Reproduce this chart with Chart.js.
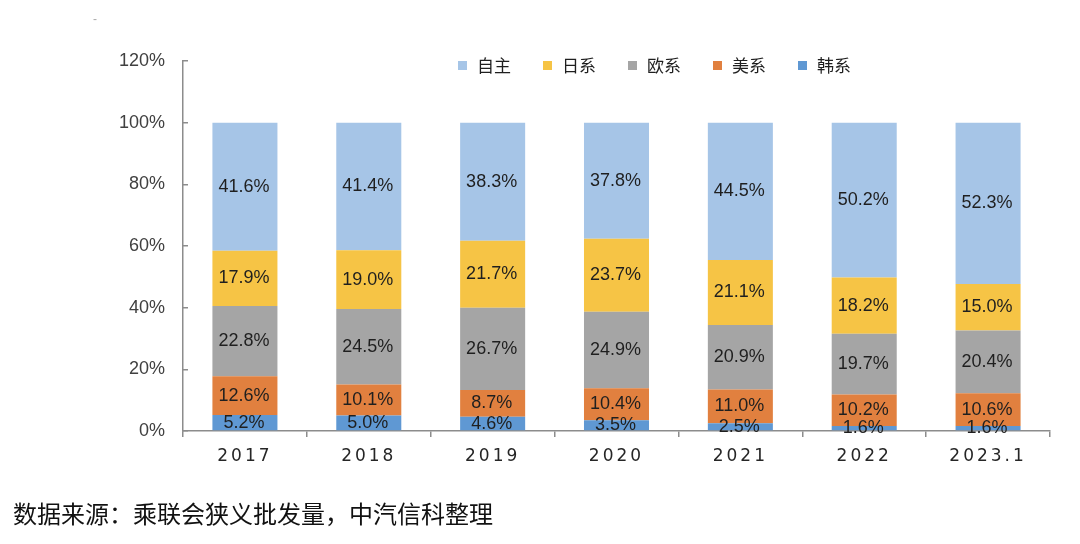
<!DOCTYPE html>
<html>
<head>
<meta charset="utf-8">
<script src="https://cdn.jsdelivr.net/npm/chart.js@4.4.0/dist/chart.umd.min.js"></script>
<style>
  html, body { margin: 0; padding: 0; background: #fff; }
  #wrap { position: relative; width: 1080px; height: 544px; }
  #chart { position: absolute; left: 0; top: 0; }
  #source {
    position: absolute; left: 13px; top: 501px;
    font: 24px/24px "Noto Sans CJK SC", sans-serif; color: #111; white-space: nowrap;
  }
  #dash { position: absolute; left: 93px; top: 12px; font: 12px "Liberation Sans", sans-serif; color: #aaa; }
</style>
</head>
<body>
<div id="wrap">
  <canvas id="chart" width="1080" height="544"></canvas>
  <div id="dash">-</div>
  <div id="source">数据来源：乘联会狭义批发量，中汽信科整理</div>
</div>
<script>
const years = ['2017', '2018', '2019', '2020', '2021', '2022', '2023.1'];
const korean = [5.2, 5.0, 4.6, 3.5, 2.5, 1.6, 1.6];
const american = [12.6, 10.1, 8.7, 10.4, 11.0, 10.2, 10.6];
const european = [22.8, 24.5, 26.7, 24.9, 20.9, 19.7, 20.4];
const japanese = [17.9, 19.0, 21.7, 23.7, 21.1, 18.2, 15.0];
const domestic = [41.6, 41.4, 38.3, 37.8, 44.5, 50.2, 52.3];
const yTicks = [0, 20, 40, 60, 80, 100, 120];

const seriesNames = ['韩系', '美系', '欧系', '日系', '自主'];
const seriesValues = [korean, american, european, japanese, domestic];
const seriesColors = ['#5F98D3', '#E1803F', '#A5A5A5', '#F6C445', '#A6C5E7'];

const axisColor = '#8c8c8c';
const numFont = '"Liberation Sans", Arial, sans-serif';
const cjkFont = '"Noto Sans CJK SC", sans-serif';

// 100% stacked: each year is scaled to its own total, labels keep the raw value.
const totals = years.map((y, j) => seriesValues.reduce((s, arr) => s + arr[j], 0));

const datasets = seriesValues.map((arr, i) => ({
  label: seriesNames[i],
  data: arr.map((v, j) => v / totals[j] * 100),
  raw: arr,
  backgroundColor: seriesColors[i],
  borderWidth: 0,
  stack: 'share',
  barPercentage: 0.525,
  categoryPercentage: 1
}));

const valueLabels = {
  id: 'valueLabels',
  afterDatasetsDraw(chart) {
    const ctx = chart.ctx;
    ctx.save();
    ctx.font = '18px ' + numFont;
    ctx.fillStyle = '#1f1f1f';
    ctx.textAlign = 'center';
    ctx.textBaseline = 'middle';
    chart.data.datasets.forEach((ds, i) => {
      chart.getDatasetMeta(i).data.forEach((bar, j) => {
        ctx.fillText(ds.raw[j].toFixed(1) + '%', bar.x - 1, (bar.y + bar.base) / 2);
      });
    });
    ctx.restore();
  }
};

// Legend sits inside the plot, top right of centre, reversed order.
const topLegend = {
  id: 'topLegend',
  afterDraw(chart) {
    const ctx = chart.ctx;
    const items = chart.data.datasets.slice().reverse();
    ctx.save();
    ctx.font = '17px ' + cjkFont;
    ctx.textBaseline = 'middle';
    ctx.textAlign = 'left';
    items.forEach((ds, k) => {
      const x = 458 + k * 85;
      ctx.fillStyle = ds.backgroundColor;
      ctx.fillRect(x, 61, 9, 9);
      ctx.fillStyle = '#1f1f1f';
      ctx.fillText(ds.label, x + 19, 66);
    });
    ctx.restore();
  }
};

// Spaced-out year labels, like the original.
const spacedX = {
  id: 'spacedX',
  beforeDraw(chart) {
    const xs = chart.scales.x;
    if (xs._spaced) return;
    const orig = xs.drawLabels.bind(xs);
    xs.drawLabels = function (area) {
      this.ctx.save();
      this.ctx.letterSpacing = '3px';
      orig(area);
      this.ctx.restore();
    };
    xs._spaced = true;
  }
};

new Chart(document.getElementById('chart'), {
  type: 'bar',
  data: { labels: years, datasets: datasets },
  plugins: [valueLabels, topLegend, spacedX],
  options: {
    responsive: false,
    animation: false,
    layout: { padding: { top: 61, right: 30, bottom: 0, left: 0 } },
    plugins: {
      legend: { display: false },
      tooltip: { enabled: false }
    },
    scales: {
      x: {
        stacked: true,
        grid: { offset: true, drawOnChartArea: false, tickLength: 6, color: axisColor, lineWidth: 1.5 },
        border: { color: axisColor, width: 1.5 },
        ticks: { font: { size: 17, family: '"DejaVu Sans", sans-serif' }, color: '#262626', padding: 9 },
        afterFit: (scale) => { scale.height = 113; }
      },
      y: {
        stacked: true,
        min: 0,
        max: 120,
        afterBuildTicks: (scale) => { scale.ticks = yTicks.map(v => ({ value: v })); },
        grid: { drawOnChartArea: false, tickLength: -5, color: axisColor, lineWidth: 1.5 },
        border: { color: axisColor, width: 1.5 },
        ticks: {
          font: { size: 18, family: numFont },
          color: '#404040',
          padding: 23,
          callback: (v) => v + '%'
        },
        afterFit: (scale) => { scale.width = 183; }
      }
    }
  }
});
</script>
</body>
</html>
